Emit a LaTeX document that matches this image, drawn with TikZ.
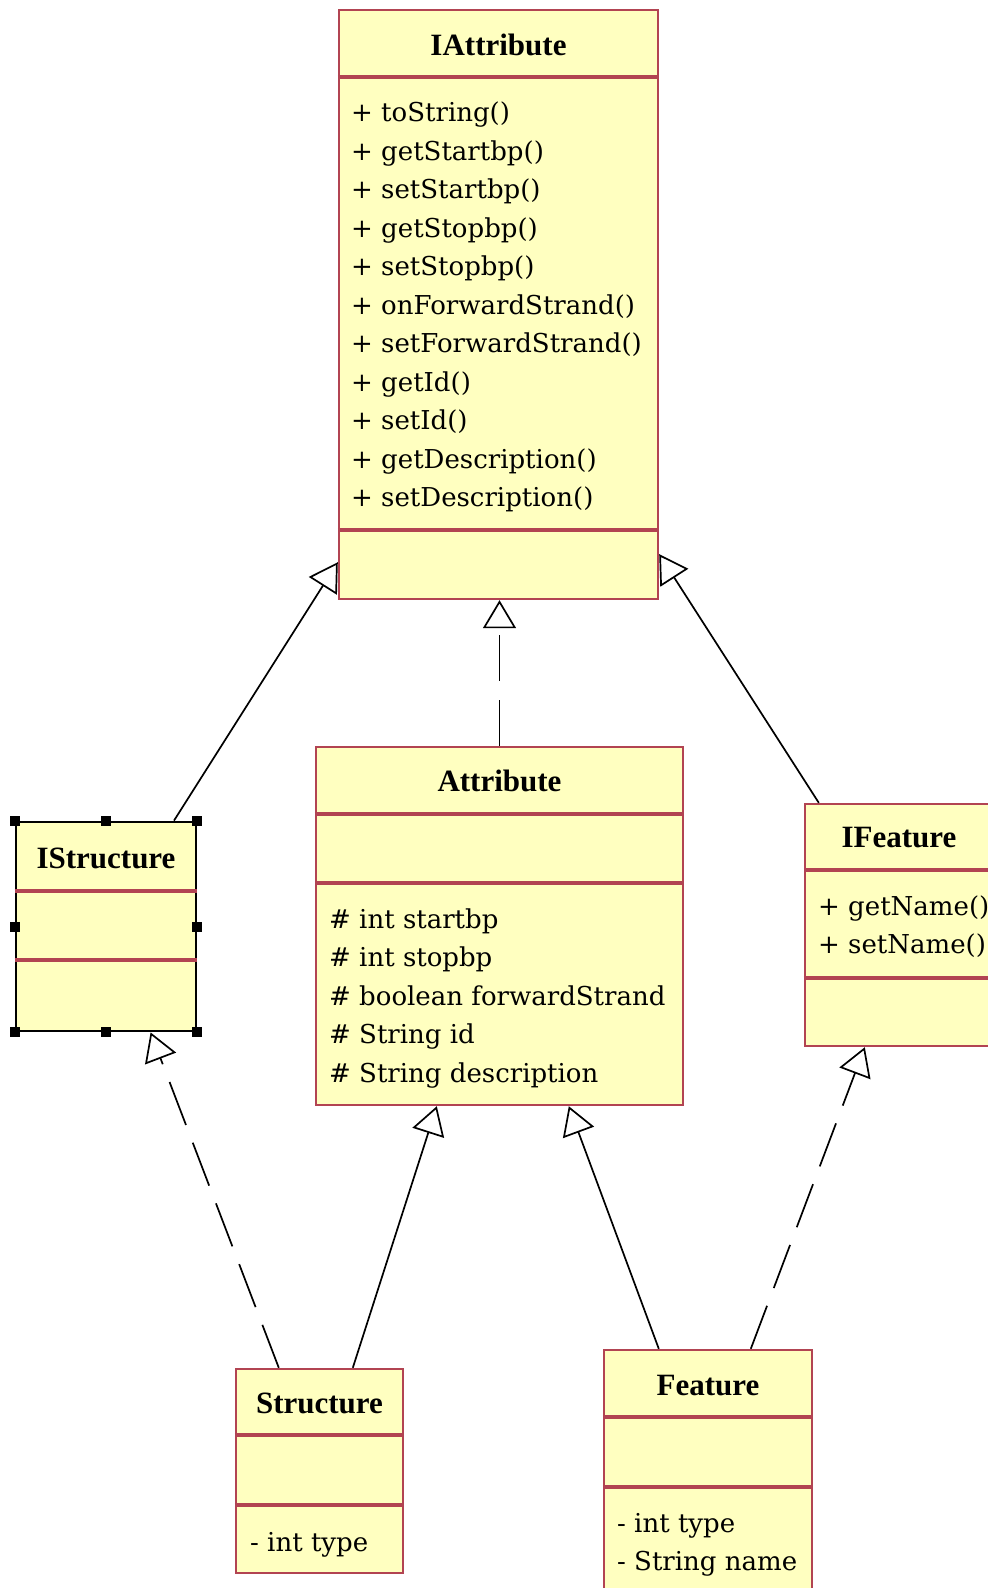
\documentclass[tikz,border=0pt]{standalone}
\usepackage{fontspec}
\setmainfont{DejaVu Serif}
\newfontfamily\titlefont{Liberation Serif}
\usetikzlibrary{arrows.meta}
\definecolor{umlfill}{RGB}{255,255,192}
\definecolor{umlline}{RGB}{178,68,82}
\tikzset{
  classbox/.style={draw=umlline, fill=umlfill, line width=2.4pt, inner sep=0pt},
  sepline/.style={umlline, line width=3.6pt},
  classname/.style={font=\titlefont\bfseries\fontsize{31}{31}\selectfont, anchor=base, inner sep=0pt},
  member/.style={font=\fontsize{26}{26}\selectfont, anchor=base west, inner sep=0pt},
  realize/.style={line width=1.7pt, -{Triangle[open, length=28pt, width=33pt]}},
  implement/.style={realize, dash pattern=on 46pt off 19pt},
}
\begin{document}
\begin{tikzpicture}[x=1pt, y=-1pt]
    \useasboundingbox (0,0) rectangle (988,1588);
    \clip (0,0) rectangle (988,1588);

    % Class boxes
    \node[classbox, minimum width=319pt, minimum height=589pt] (iattr) at (498.5,304.5) {};
    \node[classbox, minimum width=367pt, minimum height=358pt] (attr) at (499.5,926) {};
    \node[classbox, draw=black, line width=2.8pt, minimum width=180pt, minimum height=209pt] (istruct) at (106,926.5) {};
    \node[classbox, minimum width=188pt, minimum height=242pt] (ifeat) at (899,925) {};
    \node[classbox, minimum width=167pt, minimum height=204pt] (struct) at (319.5,1471) {};
    \node[classbox, minimum width=208pt, minimum height=250pt] (feat) at (708,1475) {};

    % Compartments
    \draw[sepline] (iattr.west |- 0,77) -- (iattr.east |- 0,77);
    \draw[sepline] (iattr.west |- 0,530) -- (iattr.east |- 0,530);
    \draw[sepline] (attr.west |- 0,814) -- (attr.east |- 0,814);
    \draw[sepline] (attr.west |- 0,883) -- (attr.east |- 0,883);
    \draw[sepline] (istruct.west |- 0,891) -- (istruct.east |- 0,891);
    \draw[sepline] (istruct.west |- 0,960) -- (istruct.east |- 0,960);
    \draw[sepline] (ifeat.west |- 0,870) -- (ifeat.east |- 0,870);
    \draw[sepline] (ifeat.west |- 0,978) -- (ifeat.east |- 0,978);
    \draw[sepline] (struct.west |- 0,1435) -- (struct.east |- 0,1435);
    \draw[sepline] (struct.west |- 0,1505) -- (struct.east |- 0,1505);
    \draw[sepline] (feat.west |- 0,1417) -- (feat.east |- 0,1417);
    \draw[sepline] (feat.west |- 0,1487) -- (feat.east |- 0,1487);

    % Selection handles on IStructure
    \foreach \p in {north west,north,north east,west,east,south west,south,south east}
        \fill ([shift={(-5pt,-5pt)}]istruct.\p) rectangle +(10pt,10pt);

    % Names
    \node[classname] (iattrname) at (498.5,55) {IAttribute};
    \node[classname] (attrname) at (499.5,791) {Attribute};
    \node[classname] (istructname) at (106,868.5) {IStructure};
    \node[classname] (ifeatname) at (899,847) {IFeature};
    \node[classname] (structname) at (319.5,1413) {Structure};
    \node[classname] (featname) at (708,1395) {Feature};

    % Members
    \foreach \m [count=\i] in {+ toString(), + getStartbp(), + setStartbp(), + getStopbp(), + setStopbp(),
        + onForwardStrand(), + setForwardStrand(), + getId(), + setId(), + getDescription(), + setDescription()}
        \node[member] (iattrop\i) at (351,{83.5+38.47*\i}) {\m};
    \foreach \m [count=\i] in {\# int startbp, \# int stopbp, \# boolean forwardStrand, \# String id, \# String description}
        \node[member] (attrfield\i) at (329,{889.5+38.5*\i}) {\m};
    \foreach \m [count=\i] in {+ getName(), + setName()}
        \node[member] (ifeatop\i) at (818,{876.5+38.5*\i}) {\m};
    \node[member] (structfield1) at (250,1551) {- int type};
    \foreach \m [count=\i] in {- int type, - String name}
        \node[member] (featfield\i) at (617,{1493.5+38.5*\i}) {\m};

    % Generalisation and realisation arrows
    \draw[realize] ([xshift=68pt]istruct.north) -- ([yshift=38pt]iattr.south west);
    \draw[implement] (attr.north) -- (attr.north |- iattr.south);
    \draw[realize] ([xshift=15pt]ifeat.north west) -- ([yshift=46pt]iattr.south east);
    \draw[implement] ([xshift=44pt]struct.north west) -- ([xshift=136pt]istruct.south west);
    \draw[realize] ([xshift=118pt]struct.north west) -- ([xshift=122pt]attr.south west);
    \draw[realize] ([xshift=56pt]feat.north west) -- ([xshift=254pt]attr.south west);
    \draw[implement] ([xshift=148pt]feat.north west) -- ([xshift=61pt]ifeat.south west);
\end{tikzpicture}
\end{document}
